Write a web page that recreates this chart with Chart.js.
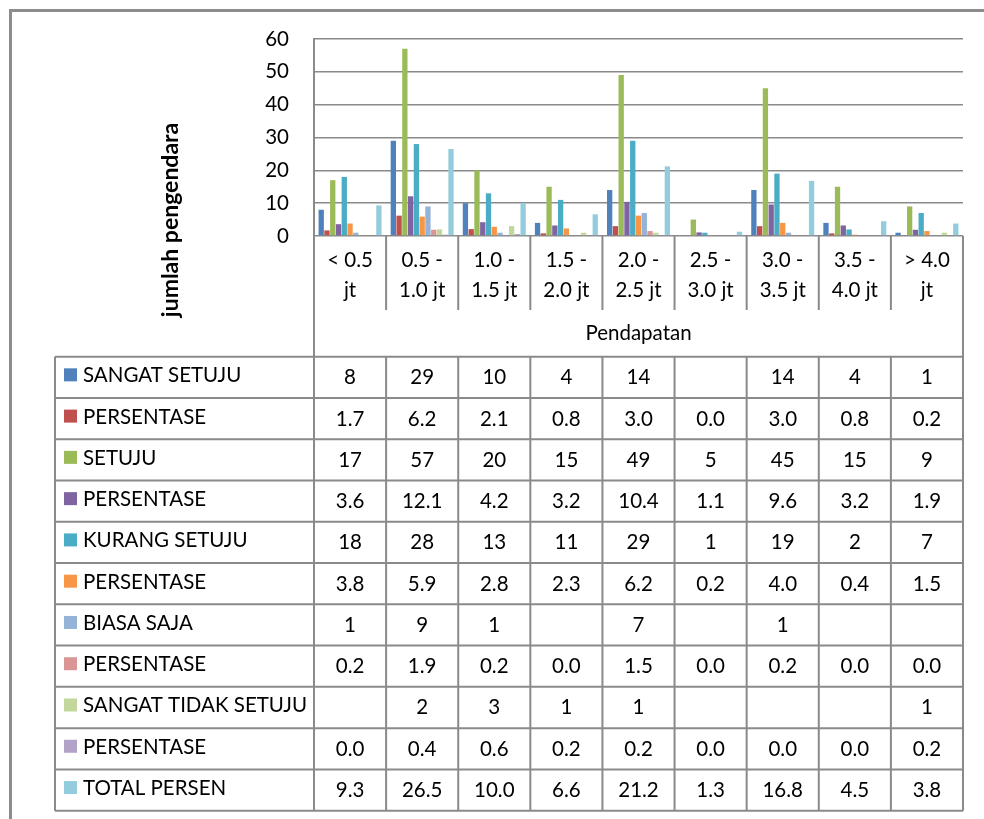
<!DOCTYPE html>
<html>
<head>
<meta charset="utf-8">
<script src="https://cdn.jsdelivr.net/npm/chart.js@4/dist/chart.umd.min.js"></script>
<style>
  html, body { margin: 0; padding: 0; background: #ffffff; }
  canvas { display: block; }
</style>
</head>
<body>
<canvas id="chart" width="984" height="819"></canvas>
<script>
// Income brackets (two-line category labels)
const categories = [
  ["< 0.5", "jt"], ["0.5 -", "1.0 jt"], ["1.0 -", "1.5 jt"], ["1.5 -", "2.0 jt"],
  ["2.0 -", "2.5 jt"], ["2.5 -", "3.0 jt"], ["3.0 -", "3.5 jt"], ["3.5 -", "4.0 jt"], ["> 4.0", "jt"]
];

// Series values per bracket (null = empty cell)
const sangatSetuju        = [8, 29, 10, 4, 14, null, 14, 4, 1];
const persenSangatSetuju  = [1.7, 6.2, 2.1, 0.8, 3.0, 0.0, 3.0, 0.8, 0.2];
const setuju              = [17, 57, 20, 15, 49, 5, 45, 15, 9];
const persenSetuju        = [3.6, 12.1, 4.2, 3.2, 10.4, 1.1, 9.6, 3.2, 1.9];
const kurangSetuju        = [18, 28, 13, 11, 29, 1, 19, 2, 7];
const persenKurangSetuju  = [3.8, 5.9, 2.8, 2.3, 6.2, 0.2, 4.0, 0.4, 1.5];
const biasaSaja           = [1, 9, 1, null, 7, null, 1, null, null];
const persenBiasaSaja     = [0.2, 1.9, 0.2, 0.0, 1.5, 0.0, 0.2, 0.0, 0.0];
const sangatTidakSetuju   = [null, 2, 3, 1, 1, null, null, null, 1];
const persenTidakSetuju   = [0.0, 0.4, 0.6, 0.2, 0.2, 0.0, 0.0, 0.0, 0.2];
const totalPersen         = [9.3, 26.5, 10.0, 6.6, 21.2, 1.3, 16.8, 4.5, 3.8];

const seriesLabels = [
  "SANGAT SETUJU", "PERSENTASE", "SETUJU", "PERSENTASE", "KURANG SETUJU", "PERSENTASE",
  "BIASA SAJA", "PERSENTASE", "SANGAT TIDAK SETUJU", "PERSENTASE", "TOTAL PERSEN"
];
const seriesData = [
  sangatSetuju, persenSangatSetuju, setuju, persenSetuju, kurangSetuju, persenKurangSetuju,
  biasaSaja, persenBiasaSaja, sangatTidakSetuju, persenTidakSetuju, totalPersen
];
// decimals shown in the data table for each series
const seriesDecimals = [0, 1, 0, 1, 0, 1, 0, 1, 0, 1, 1];
const seriesColors = [
  "#4F81BD", "#C0504D", "#9BBB59", "#8064A2", "#4BACC6", "#F79646",
  "#95B3D7", "#D99694", "#C3D69B", "#B2A2C7", "#93CDDD"
];

const yTicks = [0, 10, 20, 30, 40, 50, 60];
const yTitle = "jumlah pengendara";
const xTitle = "Pendapatan";

const FONT = "Lato, 'Open Sans', sans-serif";
const LINE = "#8a8a8a";

// Category label strip, axis-title cell and data table beneath the plot
const dataTablePlugin = {
  id: "dataTable",
  afterDraw(chart) {
    const ctx = chart.ctx;
    const xs = chart.scales.x;
    const area = chart.chartArea;
    const n = categories.length;
    const step = (xs.right - xs.left) / n;
    const labelBottom = 310;
    const tableTop = 356.7;
    const rowH = 41.27;
    const tableBottom = tableTop + rowH * seriesLabels.length;
    const tableLeft = 55;

    ctx.save();
    // outer frame of the chart object
    ctx.strokeStyle = "#8c8c8c";
    ctx.lineWidth = 3;
    ctx.beginPath();
    ctx.moveTo(10.5, 819); ctx.lineTo(10.5, 10.5); ctx.lineTo(984, 10.5);
    ctx.stroke();

    ctx.strokeStyle = LINE;
    ctx.lineWidth = 2;
    ctx.beginPath();
    for (let i = 0; i <= n; i++) {
      const xb = xs.left + i * step;
      if (i === 0 || i === n) {
        ctx.moveTo(xb, area.bottom); ctx.lineTo(xb, tableBottom);
      } else {
        ctx.moveTo(xb, area.bottom); ctx.lineTo(xb, labelBottom);
        ctx.moveTo(xb, tableTop); ctx.lineTo(xb, tableBottom);
      }
    }
    ctx.moveTo(tableLeft, tableTop); ctx.lineTo(tableLeft, tableBottom);
    for (let r = 0; r <= seriesLabels.length; r++) {
      const yy = tableTop + r * rowH;
      ctx.moveTo(tableLeft, yy); ctx.lineTo(xs.right, yy);
    }
    ctx.stroke();

    ctx.fillStyle = "#000";
    ctx.font = "20.5px " + FONT;
    ctx.textAlign = "center";
    ctx.textBaseline = "alphabetic";
    // category labels
    categories.forEach((lines, i) => {
      const cx = xs.getPixelForValue(i);
      ctx.fillText(lines[0], cx, 267);
      ctx.fillText(lines[1], cx, 297);
    });
    // x axis title
    ctx.fillText(xTitle, (xs.left + xs.right) / 2, 340);

    // table rows
    seriesLabels.forEach((label, r) => {
      const cy = tableTop + r * rowH + rowH / 2;
      ctx.fillStyle = seriesColors[r];
      ctx.fillRect(64, cy - 9, 13, 13);
      ctx.fillStyle = "#000";
      ctx.textAlign = "left";
      ctx.fillText(label, 83, cy + 5);
      ctx.textAlign = "center";
      seriesData[r].forEach((v, i) => {
        if (v === null) return;
        ctx.fillText(v.toFixed(seriesDecimals[r]), xs.getPixelForValue(i), cy + 7);
      });
    });

    // y axis title
    ctx.translate(171, 220);
    ctx.rotate(-Math.PI / 2);
    ctx.font = "bold 23px " + FONT;
    ctx.textAlign = "center";
    ctx.textBaseline = "middle";
    ctx.fillText(yTitle, 0, 0);
    ctx.restore();
  }
};

new Chart(document.getElementById("chart"), {
  type: "bar",
  data: {
    labels: categories.map(c => c.join(" ")),
    datasets: seriesLabels.map((label, k) => ({
      label: label,
      data: seriesData[k],
      backgroundColor: seriesColors[k],
      borderWidth: 0,
      categoryPercentage: 0.88,
      barPercentage: 0.92
    }))
  },
  options: {
    responsive: false,
    animation: false,
    layout: { padding: { top: 39, right: 21, bottom: 583, left: 0 } },
    plugins: { legend: { display: false }, tooltip: { enabled: false } },
    scales: {
      x: { display: false },
      y: {
        min: 0, max: 60,
        afterFit: s => { s.width = 314; },
        afterBuildTicks: s => { s.ticks = yTicks.map(v => ({ value: v })); },
        ticks: { color: "#000", padding: 25, font: { family: FONT, size: 20.5 } },
        grid: { color: LINE, lineWidth: 1.5, drawTicks: false },
        border: { display: true, color: LINE, width: 2 }
      }
    }
  },
  plugins: [dataTablePlugin]
});
</script>
</body>
</html>
